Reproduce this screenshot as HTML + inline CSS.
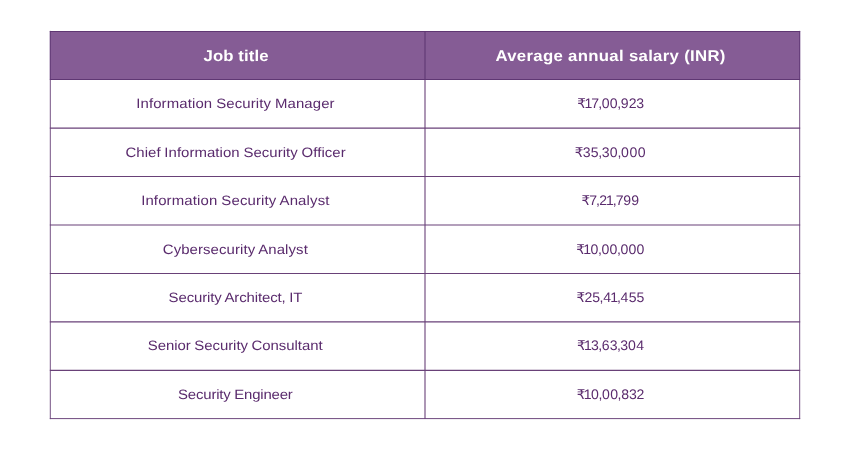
<!DOCTYPE html>
<html><head><meta charset="utf-8"><title>Salary table</title>
<style>
html,body{margin:0;padding:0;background:#fff;}
svg{display:block;will-change:transform;}
text{font-family:"Liberation Sans","DejaVu Sans",sans-serif;text-rendering:geometricPrecision;}
.h{font-weight:bold;font-size:15.5px;fill:#fff;}
.b{word-spacing:-0.4px;font-size:13.6px;fill:#5a2b6d;stroke:#5a2b6d;stroke-width:0;}
.n{font-size:13.8px;fill:#5a2b6d;stroke:#5a2b6d;stroke-width:0;}
</style></head><body>
<svg width="850" height="450" viewBox="0 0 850 450">
<rect x="0" y="0" width="850" height="450" fill="#ffffff"/>
<rect x="49.84" y="31.45" width="750.32" height="48.10" fill="#855C95"/>
<g stroke="#694178" fill="none">
<line x1="49.84" y1="128.15" x2="800.16" y2="128.15" stroke-width="1.1"/>
<line x1="49.84" y1="176.5" x2="800.16" y2="176.5" stroke-width="1.1"/>
<line x1="49.84" y1="225.0" x2="800.16" y2="225.0" stroke-width="1.1"/>
<line x1="49.84" y1="273.5" x2="800.16" y2="273.5" stroke-width="1.1"/>
<line x1="49.84" y1="321.85" x2="800.16" y2="321.85" stroke-width="1.1"/>
<line x1="49.84" y1="370.35" x2="800.16" y2="370.35" stroke-width="1.1"/>
<line x1="49.84" y1="418.6" x2="800.16" y2="418.6" stroke-width="0.96"/>
<line x1="50.3" y1="79.55" x2="50.3" y2="419.08" stroke-width="0.92"/>
<line x1="425.0" y1="79.55" x2="425.0" y2="419.08" stroke-width="1.1"/>
<line x1="799.7" y1="79.55" x2="799.7" y2="419.08" stroke-width="0.92"/>
</g>
<g stroke="#5f3773" fill="none">
<line x1="49.84" y1="31.45" x2="800.16" y2="31.45" stroke-width="1.1"/>
<line x1="49.84" y1="79.55" x2="800.16" y2="79.55" stroke-width="1.1"/>
<line x1="50.3" y1="30.9" x2="50.3" y2="79.55" stroke-width="0.92"/>
<line x1="425.0" y1="30.9" x2="425.0" y2="79.55" stroke-width="1.1"/>
<line x1="799.7" y1="30.9" x2="799.7" y2="79.55" stroke-width="0.92"/>
</g>
<text id="l0" class="h" transform="translate(203.54 60.90) rotate(0.02) scale(1.08 1)" textLength="60.24" lengthAdjust="spacing">Job title</text>
<text id="l1" class="b" transform="translate(136.23 107.80) rotate(0.02) scale(1.1 1)" textLength="180.35" lengthAdjust="spacing">Information Security Manager</text>
<text id="l2" class="b" transform="translate(125.44 156.80) rotate(0.02) scale(1.1 1)" textLength="200.16" lengthAdjust="spacing">Chief Information Security Officer</text>
<text id="l3" class="b" transform="translate(141.13 204.80) rotate(0.02) scale(1.1 1)" textLength="171.18" lengthAdjust="spacing">Information Security Analyst</text>
<text id="l4" class="b" transform="translate(162.75 253.80) rotate(0.02) scale(1.1 1)" textLength="131.89" lengthAdjust="spacing">Cybersecurity Analyst</text>
<text id="l5" class="b" transform="translate(168.60 301.85) rotate(0.02) scale(1.1 1)" textLength="121.63" lengthAdjust="spacing">Security Architect, IT</text>
<text id="l6" class="b" transform="translate(147.77 349.85) rotate(0.02) scale(1.1 1)" textLength="158.91" lengthAdjust="spacing">Senior Security Consultant</text>
<text id="l7" class="b" transform="translate(178.02 398.85) rotate(0.02) scale(1.1 1)" textLength="104.38" lengthAdjust="spacing">Security Engineer</text>
<text id="r0" class="h" transform="translate(495.42 60.90) rotate(0.02) scale(1.08 1)" textLength="213.01" lengthAdjust="spacing">Average annual salary (INR)</text>
<text id="r1" class="n" transform="translate(578.11 107.80) rotate(0.02) scale(1.02 1)" x="-0.76 6.28 12.93 19.76 23.24 31.14 38.45 41.93 49.59 56.96"><tspan style="font-size:13.3px">₹</tspan>17,00,923</text>
<text id="r2" class="n" transform="translate(575.29 156.80) rotate(0.02) scale(1.02 1)" x="-0.65 7.39 15.19 22.62 25.96 33.81 41.29 44.93 53.08 61.22"><tspan style="font-size:13.3px">₹</tspan>35,30,000</text>
<text id="r3" class="n" transform="translate(582.24 204.80) rotate(0.02) scale(1.02 1)" x="-0.79 6.78 13.58 16.77 23.32 29.83 32.79 40.16 48.00"><tspan style="font-size:13.3px">₹</tspan>7,21,799</text>
<text id="r4" class="n" transform="translate(576.98 253.80) rotate(0.02) scale(1.02 1)" x="-0.78 6.23 13.33 20.62 24.07 31.94 39.23 42.68 50.55 58.41"><tspan style="font-size:13.3px">₹</tspan>10,00,000</text>
<text id="r5" class="n" transform="translate(577.24 301.85) rotate(0.02) scale(1.02 1)" x="-0.78 7.03 14.60 21.83 25.42 32.36 38.88 42.47 50.41 58.17"><tspan style="font-size:13.3px">₹</tspan>25,41,455</text>
<text id="r6" class="n" transform="translate(577.68 349.85) rotate(0.02) scale(1.02 1)" x="-0.75 6.30 13.16 20.19 23.73 31.41 38.44 41.64 49.27 57.34"><tspan style="font-size:13.3px">₹</tspan>13,63,304</text>
<text id="r7" class="n" transform="translate(577.44 398.85) rotate(0.02) scale(1.02 1)" x="-0.77 6.26 13.39 20.70 24.17 32.06 39.36 42.93 50.63 57.99"><tspan style="font-size:13.3px">₹</tspan>10,00,832</text>
</svg>
</body></html>
